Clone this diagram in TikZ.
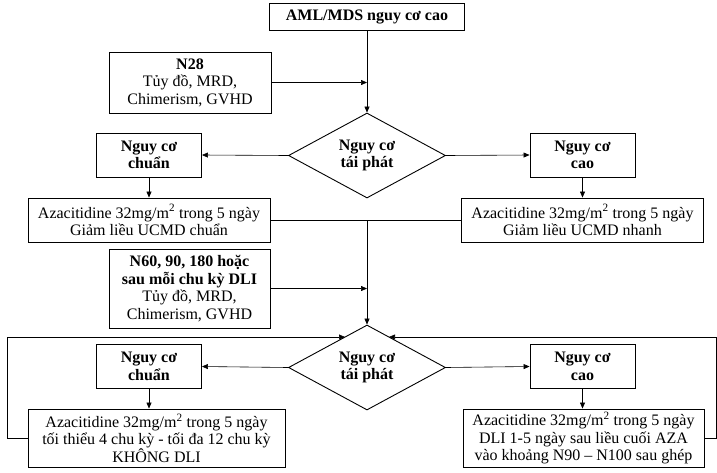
\documentclass[tikz,border=0pt]{standalone}
\usepackage{fontspec}
\setmainfont{Liberation Serif}
\usetikzlibrary{arrows.meta,positioning,shapes.geometric}

\begin{document}
\begin{tikzpicture}[
 x=1pt,y=-1pt,
 font=\fontsize{16}{17.5}\selectfont,
 box/.style={draw,line width=0.9pt,align=center,inner sep=2pt},
 riskbox/.style={box,font=\fontsize{16}{17.5}\selectfont\bfseries,minimum width=105pt,minimum height=44pt},
 drugbox/.style={box,minimum width=242pt,minimum height=44pt},
 decision/.style={draw,diamond,line width=0.9pt,align=center,font=\fontsize{16}{17.5}\selectfont\bfseries,minimum width=157pt,minimum height=85pt,aspect=1.85,inner sep=1pt},
 arrow/.style={-{Triangle[length=6pt,width=5pt]},line width=0.6pt},
 link/.style={line width=0.6pt}
]
\useasboundingbox (0,0) rectangle (717,472);

% first assessment
\node[box,font=\fontsize{16}{17.5}\selectfont\bfseries,minimum width=195pt,minimum height=27pt] (start) at (367,16.5) {AML/MDS nguy cơ cao};
\node[box,minimum width=162pt,minimum height=61pt] (n28) at (190,82.5) {\textbf{N28}\\Tủy đồ, MRD,\\Chimerism, GVHD};
\node[decision] (dia1) at (367,155.5) {Nguy cơ\\tái phát};
\node[riskbox] (lo1) at (149,155) {Nguy cơ\\chuẩn};
\node[riskbox] (hi1) at (582.5,155) {Nguy cơ\\cao};
\node[drugbox] (aza1L) at (149,220) {Azacitidine 32mg/m\textsuperscript{2} trong 5 ngày\\Giảm liều UCMD chuẩn};
\node[drugbox] (aza1R) at (582.5,220) {Azacitidine 32mg/m\textsuperscript{2} trong 5 ngày\\Giảm liều UCMD nhanh};

\draw[arrow] (start.south) -- (dia1.north);
\draw[arrow] (n28.east) -- (n28.east -| dia1.north);
\draw[arrow] (dia1.west) -- (lo1.east);
\draw[arrow] (dia1.east) -- (hi1.west);
\draw[arrow] (lo1.south) -- (aza1L.north);
\draw[arrow] (hi1.south) -- (aza1R.north);
\draw[link] (aza1L.east) -- (aza1R.west);

% follow-up assessment
\node[box,minimum width=161pt,minimum height=79pt] (n60) at (189.5,288.5) {\textbf{N60, 90, 180 hoặc}\\\textbf{sau mỗi chu kỳ DLI}\\Tủy đồ, MRD,\\Chimerism, GVHD};
\node[decision] (dia2) at (367,367.5) {Nguy cơ\\tái phát};
\node[riskbox] (lo2) at (149,366.5) {Nguy cơ\\chuẩn};
\node[riskbox] (hi2) at (582.5,366.5) {Nguy cơ\\cao};
\node[box,minimum width=257pt,minimum height=58pt] (aza2L) at (156.5,438) {Azacitidine 32mg/m\textsuperscript{2} trong 5 ngày\\tối thiểu 4 chu kỳ - tối đa 12 chu kỳ\\KHÔNG DLI};
\node[box,minimum width=241pt,minimum height=58pt] (aza2R) at (583.5,438) {Azacitidine 32mg/m\textsuperscript{2} trong 5 ngày\\DLI 1-5 ngày sau liều cuối AZA\\vào khoảng N90 – N100 sau ghép};

\coordinate (join) at (aza1L.east -| dia1.south);
\coordinate (backL) at (7,337);
\coordinate (backR) at (716,337);
\coordinate (inL) at (345,337);
\coordinate (inR) at (389,337);

\draw[arrow] (join) -- (dia2.north);
\draw[arrow] (n60.east) -- (n60.east -| dia2.north);
\draw[arrow] (dia2.west) -- (lo2.east);
\draw[arrow] (dia2.east) -- (hi2.west);
\draw[arrow] (lo2.south) -- (aza2L.north -| lo2.south);
\draw[arrow] (hi2.south) -- (aza2R.north -| hi2.south);
\draw[arrow] (aza2L.west) -| (backL) -- (inL);
\draw[arrow] (aza2R.east) -| (backR) -- (inR);
\end{tikzpicture}
\end{document}
